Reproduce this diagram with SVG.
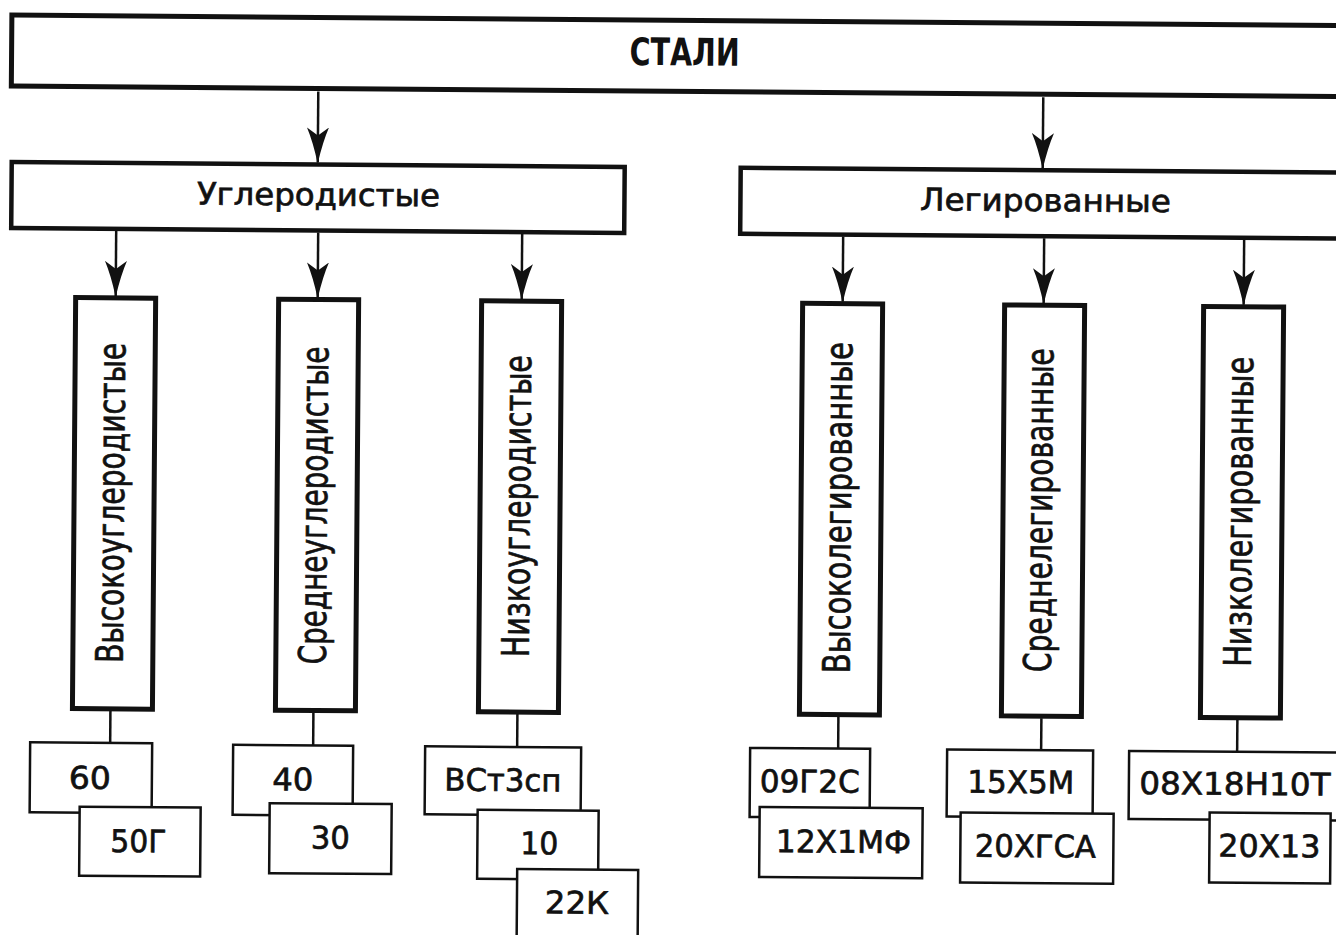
<svg xmlns="http://www.w3.org/2000/svg" width="1336" height="935" viewBox="0 0 1336 935">
  <defs>
    <marker id="ah" viewBox="0 0 36 22" refX="35" refY="11" markerWidth="36" markerHeight="22" markerUnits="userSpaceOnUse" orient="auto">
      <path d="M0,0 Q14,6 36,11 Q14,16 0,22 L8,11 Z" fill="#111"/>
    </marker>
    <style>
      .box { fill: #fff; stroke: #111; }
      .b1 { stroke-width: 5; }
      .b2 { stroke-width: 4.5; }
      .bv { stroke-width: 5; }
      .bs { stroke-width: 2.5; }
      .ln { stroke: #111; stroke-width: 2.5; fill: none; }
      .t1 { font-family: "DejaVu Sans Condensed", "DejaVu Sans", sans-serif; font-weight: bold; font-size: 38px; fill: #111; text-anchor: middle; }
      .t2 { font-family: "DejaVu Sans", sans-serif; font-size: 31px; fill: #111; stroke: #111; stroke-width: 0.7; text-anchor: middle; }
      .tv { font-family: "DejaVu Sans Condensed", "DejaVu Sans", sans-serif; font-size: 38px; fill: #111; stroke: #111; stroke-width: 0.7; text-anchor: middle; }
      .ts { font-family: "DejaVu Sans", sans-serif; font-size: 31px; fill: #111; stroke: #111; stroke-width: 0.7; text-anchor: middle; }
    </style>
  </defs>
  <rect x="0" y="0" width="1336" height="935" fill="#fff"/>
  <g transform="rotate(0.45)">
    <g id="connectors">
      <line class="ln" x1="319" y1="89" x2="319" y2="160" marker-end="url(#ah)"/>
      <line class="ln" x1="1044" y1="89" x2="1044" y2="160" marker-end="url(#ah)"/>
      <line class="ln" x1="118" y1="230" x2="118" y2="295" marker-end="url(#ah)"/>
      <line class="ln" x1="320" y1="230" x2="320" y2="295" marker-end="url(#ah)"/>
      <line class="ln" x1="524" y1="230" x2="524" y2="295" marker-end="url(#ah)"/>
      <line class="ln" x1="845" y1="230" x2="845" y2="295" marker-end="url(#ah)"/>
      <line class="ln" x1="1046" y1="230" x2="1046" y2="295" marker-end="url(#ah)"/>
      <line class="ln" x1="1246" y1="230" x2="1246" y2="295" marker-end="url(#ah)"/>
      <line class="ln" x1="116" y1="710" x2="116" y2="742"/>
      <line class="ln" x1="319" y1="710" x2="319" y2="743"/>
      <line class="ln" x1="523" y1="710" x2="523" y2="743"/>
      <line class="ln" x1="844" y1="710" x2="844" y2="742"/>
      <line class="ln" x1="1047" y1="710" x2="1047" y2="742"/>
      <line class="ln" x1="1243" y1="710" x2="1243" y2="742"/>
    </g>
    <g id="stali">
      <rect class="box b1" x="12" y="15" width="1350" height="71"/>
      <text class="t1" x="685" y="60" textLength="110" lengthAdjust="spacingAndGlyphs">СТАЛИ</text>
    </g>
    <g id="uglerodistye">
      <rect class="box b2" x="13" y="162" width="613" height="66"/>
      <text class="t2" x="320" y="203" textLength="243" lengthAdjust="spacingAndGlyphs">Углеродистые</text>
    </g>
    <g id="legirovannye">
      <rect class="box b2" x="742" y="162" width="620" height="66"/>
      <text class="t2" x="1047" y="203" textLength="251" lengthAdjust="spacingAndGlyphs">Легированные</text>
    </g>
    <g id="vysokouglerodistye">
      <rect class="box bv" x="78" y="297" width="80" height="411"/>
      <text class="tv" transform="translate(128 502) rotate(-90)" textLength="320" lengthAdjust="spacingAndGlyphs">Высокоуглеродистые</text>
    </g>
    <g id="sredneuglerodistye">
      <rect class="box bv" x="281" y="297" width="80" height="411"/>
      <text class="tv" transform="translate(331 503) rotate(-90)" textLength="318" lengthAdjust="spacingAndGlyphs">Среднеуглеродистые</text>
    </g>
    <g id="nizkouglerodistye">
      <rect class="box bv" x="484" y="297" width="80" height="411"/>
      <text class="tv" transform="translate(534 502) rotate(-90)" textLength="302" lengthAdjust="spacingAndGlyphs">Низкоуглеродистые</text>
    </g>
    <g id="vysokolegirovannye">
      <rect class="box bv" x="805" y="297" width="80" height="411"/>
      <text class="tv" transform="translate(855 501) rotate(-90)" textLength="331" lengthAdjust="spacingAndGlyphs">Высоколегированные</text>
    </g>
    <g id="srednelegirovannye">
      <rect class="box bv" x="1007" y="297" width="80" height="411"/>
      <text class="tv" transform="translate(1056 502) rotate(-90)" textLength="324" lengthAdjust="spacingAndGlyphs">Среднелегированные</text>
    </g>
    <g id="nizkolegirovannye">
      <rect class="box bv" x="1206" y="297" width="80" height="411"/>
      <text class="tv" transform="translate(1256 502) rotate(-90)" textLength="310" lengthAdjust="spacingAndGlyphs">Низколегированные</text>
    </g>
    <g id="grades-high-carbon">
      <rect class="box bs" x="36" y="742" width="122" height="70"/>
      <text class="ts" x="96" y="788" textLength="42" lengthAdjust="spacingAndGlyphs">60</text>
      <rect class="box bs" x="86" y="806" width="121" height="69"/>
      <text class="ts" x="145" y="851" textLength="56" lengthAdjust="spacingAndGlyphs">50Г</text>
    </g>
    <g id="grades-medium-carbon">
      <rect class="box bs" x="239" y="743" width="120" height="70"/>
      <text class="ts" x="299" y="788" textLength="41" lengthAdjust="spacingAndGlyphs">40</text>
      <rect class="box bs" x="276" y="801" width="122" height="70"/>
      <text class="ts" x="337" y="846" textLength="39" lengthAdjust="spacingAndGlyphs">30</text>
    </g>
    <g id="grades-low-carbon">
      <rect class="box bs" x="431" y="743" width="156" height="68"/>
      <text class="ts" x="509" y="787" textLength="117" lengthAdjust="spacingAndGlyphs">ВСт3сп</text>
      <rect class="box bs" x="484" y="806" width="121" height="69"/>
      <text class="ts" x="546" y="850" textLength="38" lengthAdjust="spacingAndGlyphs">10</text>
      <rect class="box bs" x="524" y="865" width="121" height="85"/>
      <text class="ts" x="584" y="909" textLength="64" lengthAdjust="spacingAndGlyphs">22К</text>
    </g>
    <g id="grades-high-alloy">
      <rect class="box bs" x="756" y="742" width="120" height="69"/>
      <text class="ts" x="816" y="786" textLength="100" lengthAdjust="spacingAndGlyphs">09Г2С</text>
      <rect class="box bs" x="766" y="801" width="163" height="70"/>
      <text class="ts" x="850" y="846" textLength="135" lengthAdjust="spacingAndGlyphs">12Х1МФ</text>
    </g>
    <g id="grades-medium-alloy">
      <rect class="box bs" x="953" y="742" width="146" height="67"/>
      <text class="ts" x="1027" y="785" textLength="107" lengthAdjust="spacingAndGlyphs">15Х5М</text>
      <rect class="box bs" x="967" y="805" width="153" height="70"/>
      <text class="ts" x="1042" y="849" textLength="121" lengthAdjust="spacingAndGlyphs">20ХГСА</text>
    </g>
    <g id="grades-low-alloy">
      <rect class="box bs" x="1135" y="742" width="225" height="68"/>
      <text class="ts" x="1241" y="785" textLength="191" lengthAdjust="spacingAndGlyphs">08Х18Н10Т</text>
      <rect class="box bs" x="1216" y="803" width="121" height="70"/>
      <text class="ts" x="1276" y="847" textLength="102" lengthAdjust="spacingAndGlyphs">20Х13</text>
    </g>
  </g>
</svg>
